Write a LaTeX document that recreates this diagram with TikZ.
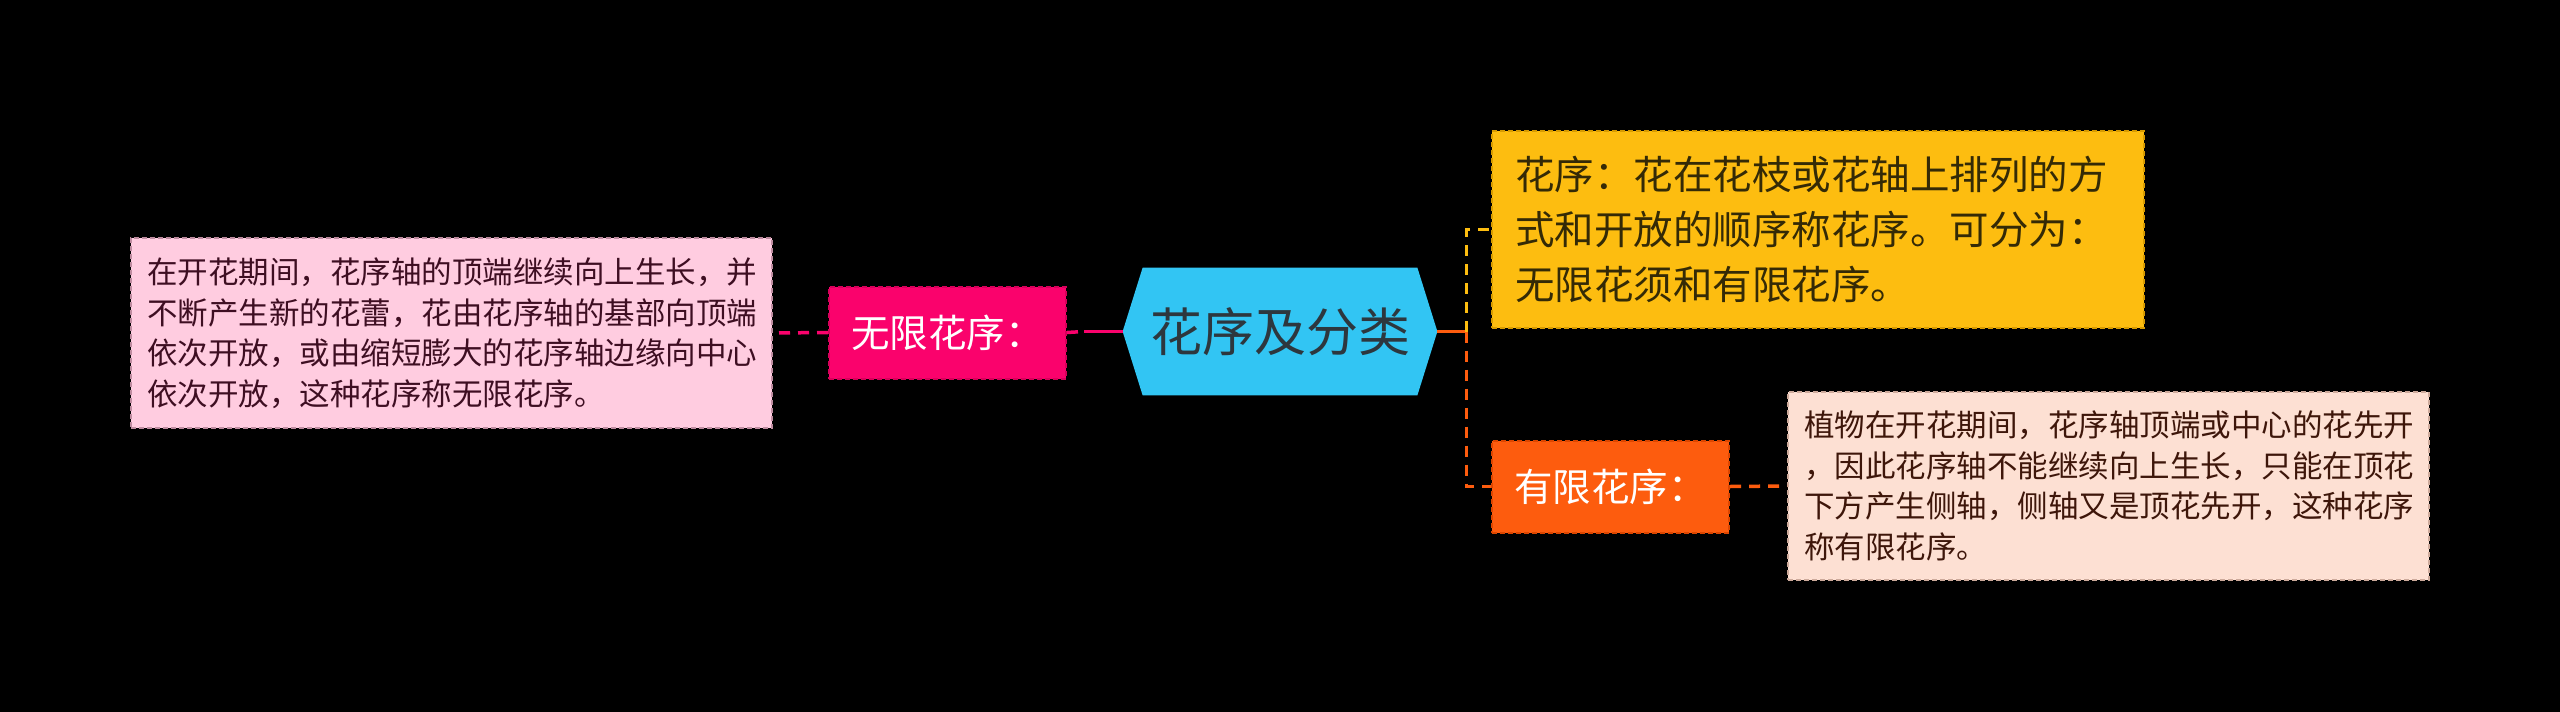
\documentclass[tikz,border=0pt]{standalone}
\usepackage{fontspec}
\setmainfont{Noto Sans CJK SC}
\usetikzlibrary{backgrounds}

\definecolor{rootblue}{RGB}{50,197,243}
\definecolor{roottext}{RGB}{45,55,62}
\definecolor{rosered}{RGB}{250,2,108}
\definecolor{rosedark}{RGB}{215,0,90}
\definecolor{pinkfill}{RGB}{255,204,224}
\definecolor{pinkline}{RGB}{190,140,160}
\definecolor{pinktext}{RGB}{62,14,34}
\definecolor{goldfill}{RGB}{253,189,16}
\definecolor{goldline}{RGB}{215,155,0}
\definecolor{goldtext}{RGB}{52,42,6}
\definecolor{flame}{RGB}{253,92,14}
\definecolor{flamedark}{RGB}{220,70,0}
\definecolor{peachfill}{RGB}{253,224,211}
\definecolor{peachline}{RGB}{205,170,155}
\definecolor{peachtext}{RGB}{62,22,10}

\tikzset{every picture/.style={line width=0.75pt},
  boxbase/.style={rectangle, inner sep=0pt, align=left, line width=2pt, dash pattern=on 5pt off 3pt},
  descbox/.style={boxbase, inner xsep=16pt, text width=609pt, minimum height=190pt,
    font={\fontsize{30.5}{40.5}\selectfont}},
  labelbox/.style={boxbase, align=center, minimum width=237pt, minimum height=92pt,
    text=white, font={\fontsize{38.5}{44}\selectfont}},
  rootnode/.style={rectangle, inner sep=0pt, minimum width=314pt, minimum height=127pt,
    text=roottext, font={\fontsize{52}{60}\selectfont}},
  linkbase/.style={line width=3.5pt, dash pattern=on 11pt off 8pt},
}

\begin{document}
\begin{tikzpicture}[x=1pt,y=1pt,yscale=-1,xscale=1]
\useasboundingbox (0,0) rectangle (2560,712);

% centre
\node[rootnode] (root) at (1280,331.5) {花序及分类};

% left branch
\node[labelbox, fill=rosered, draw=rosedark] (wuxian) at (947.5,332.5) {无限花序：};
\node[descbox, fill=pinkfill, draw=pinkline, text=pinktext] (wuxiandesc) at (451.5,333) {在开花期间，花序轴的顶端继续向上生长，并\\不断产生新的花蕾，花由花序轴的基部向顶端\\依次开放，或由缩短膨大的花序轴边缘向中心\\依次开放，这种花序称无限花序。};

% right branch
\node[descbox, fill=goldfill, draw=goldline, text=goldtext, inner xsep=23pt, text width=606pt,
  minimum height=197pt, font={\fontsize{39.5}{55}\selectfont}] (dingyi) at (1818,229.5) {花序：花在花枝或花轴上排列的方\\式和开放的顺序称花序。可分为：\\无限花须和有限花序。};
\node[labelbox, fill=flame, draw=flamedark] (youxian) at (1610.5,486.5) {有限花序：};
\node[descbox, fill=peachfill, draw=peachline, text=peachtext, minimum height=188pt] (youxiandesc) at (2108.5,486) {植物在开花期间，花序轴顶端或中心的花先开\\，因此花序轴不能继续向上生长，只能在顶花\\下方产生侧轴，侧轴又是顶花先开，这种花序\\称有限花序。};

% connectors
\draw[rosered, line width=3.5pt] (root.west) -- ++(-39,0) coordinate (lfork);
\draw[rosered, linkbase] (wuxian.east) -- (lfork);
\draw[rosered, linkbase] (wuxian.west) -- (wuxiandesc.east);
\coordinate (rfork) at ([xshift=29pt]root.east);
\draw[flame, line width=3.5pt] (root.east) -- (rfork);
\draw[goldfill, linkbase] (rfork) |- (dingyi.west);
\draw[flame, linkbase] (rfork) |- (youxian.west);
\draw[flame, linkbase] (youxian.east) -- (youxiandesc.west);

\begin{scope}[on background layer]
\fill[black] (0,0) rectangle (2560,712);
\fill[rootblue] (root.west) -- ([xshift=20pt]root.north west) -- ([xshift=-20pt]root.north east)
  -- (root.east) -- ([xshift=-20pt]root.south east) -- ([xshift=20pt]root.south west) -- cycle;
\end{scope}
\end{tikzpicture}
\end{document}
